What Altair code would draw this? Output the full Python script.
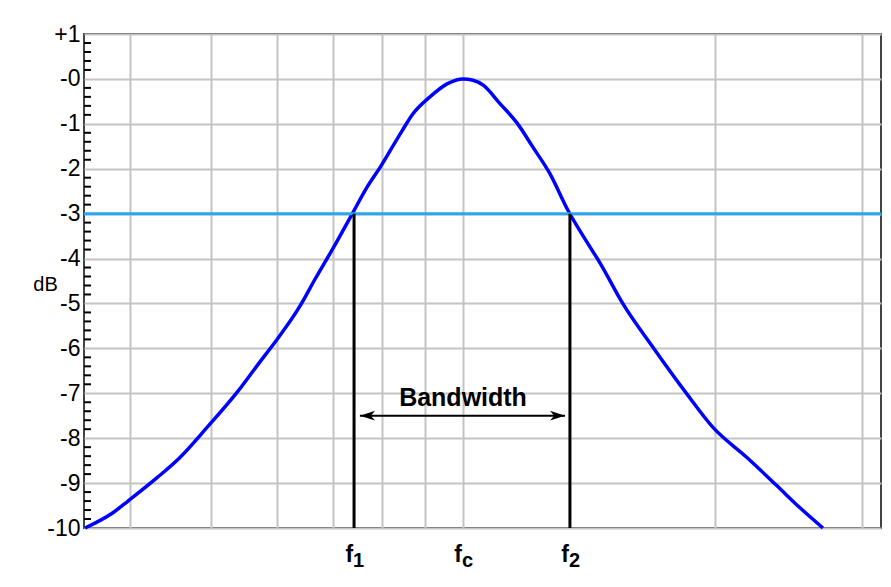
import altair as alt
import pandas as pd

# ---- curve (frequency on log axis, response in dB) ----
freq = [3.535, 3.817, 3.979, 4.31, 4.59, 4.945, 5.37, 5.72, 5.93, 6.39, 6.66,
        6.99, 7.39, 7.68, 7.96, 8.46, 8.71, 9.13, 9.57, 10.0, 10.28, 10.57,
        11.07, 11.60, 12.12, 12.70, 13.35, 14.07, 14.58, 15.53, 16.87, 18.52,
        19.89, 21.84, 23.72, 25.27, 26.92]
db = [-10, -9.66, -9.40, -8.88, -8.43, -7.76, -6.98, -6.30, -5.92, -5.05, -4.45,
      -3.78, -2.97, -2.41, -1.97, -1.15, -0.78, -0.40, -0.11, 0.0, -0.03, -0.14,
      -0.55, -0.98, -1.52, -2.11, -2.93, -3.64, -4.10, -5.01, -5.98, -7.02,
      -7.76, -8.43, -9.06, -9.55, -10]

# ---- annotation values ----
cut_db = -3
f_lines = [7.41, 13.42]
f_lab_x = [7.41, 10.0, 13.42]
f_lab_sub = ["1", "c", "2"]
arrow_tips = [7.53, 13.24]
arrow_heads = [7.69, 12.97]
arrow_db = -7.5
bw_label = "Bandwidth"
bw_x = 10.0
bw_db = -7.28

# ---- axes ----
x_domain = [3.525, 31.58]
x_grid = [4, 5, 6, 7, 8, 9, 10, 20, 30]
y_domain = [-10, 1]
y_major = [-10, -9, -8, -7, -6, -5, -4, -3, -2, -1, 0, 1]
y_minor_steps = [0.2, 0.4, 0.6, 0.8]
y_minor = [round(m + s, 1) for m in y_major[:-1] for s in y_minor_steps]

curve = pd.DataFrame({"f": freq, "db": db})
xs = alt.Scale(type="log", domain=x_domain, nice=False)
ys = alt.Scale(domain=y_domain, nice=False, zero=False)

FONT = "Liberation Sans"

x_axis = alt.Axis(values=x_grid, labels=False, ticks=False, domain=False,
                  grid=True, title=None)
y_axis = alt.Axis(values=y_major, ticks=False, domain=False, grid=True,
                  labelExpr="datum.value > 0 ? '+' + datum.value : '-' + abs(datum.value)",
                  labelFont=FONT, labelFontSize=23, labelColor="black",
                  labelPadding=4,
                  title="dB", titleAngle=0, titleX=-39, titleY=250,
                  titleAlign="center", titleBaseline="middle",
                  titleFont=FONT, titleFontSize=20, titleFontWeight="normal",
                  titleColor="black")


def X(field):
    return alt.X(field, scale=xs, axis=x_axis)


def Y(field):
    return alt.Y(field, scale=ys, axis=y_axis)


base = alt.Chart(curve).mark_line(color="#0000ff", strokeWidth=3.5, interpolate="monotone").encode(
    x=X("f:Q"), y=Y("db:Q"))

cut = alt.Chart(pd.DataFrame({"db": [cut_db]})).mark_rule(
    color="#29a6ef", strokeWidth=3).encode(y=Y("db:Q"))

vlines = alt.Chart(pd.DataFrame({"f": f_lines, "y1": [cut_db] * 2, "y2": [y_domain[0]] * 2})).mark_rule(
    color="black", strokeWidth=3).encode(
    x=X("f:Q"), y=Y("y1:Q"), y2="y2:Q")

minor = alt.Chart(pd.DataFrame({"db": y_minor})).mark_rule(
    color="black", strokeWidth=2).encode(
    y=Y("db:Q"), x=alt.value(0), x2=alt.value(7))

arrow_line = alt.Chart(pd.DataFrame({"a": [arrow_tips[0]], "b": [arrow_tips[1]], "db": [arrow_db]})).mark_rule(
    color="black", strokeWidth=2).encode(
    x=X("a:Q"), x2="b:Q", y=Y("db:Q"))

head_l = alt.Chart(pd.DataFrame({"f": [arrow_heads[0]], "db": [arrow_db]})).mark_point(
    shape="M-1,0L1,-0.65L0.45,0L1,0.65Z", filled=True, size=225, color="black", opacity=1).encode(
    x=X("f:Q"), y=Y("db:Q"))
head_r = alt.Chart(pd.DataFrame({"f": [arrow_heads[1]], "db": [arrow_db]})).mark_point(
    shape="M1,0L-1,-0.65L-0.45,0L-1,0.65Z", filled=True, size=225, color="black", opacity=1).encode(
    x=X("f:Q"), y=Y("db:Q"))

bw = alt.Chart(pd.DataFrame({"f": [bw_x], "db": [bw_db], "t": [bw_label]})).mark_text(
    font=FONT, fontSize=25, fontWeight="bold", color="black", baseline="alphabetic").encode(
    x=X("f:Q"), y=Y("db:Q"), text="t:N")

lab_df = pd.DataFrame({"f": f_lab_x, "db": [y_domain[0]] * 3, "f_txt": ["f"] * 3, "sub": f_lab_sub})
f_main = alt.Chart(lab_df).mark_text(
    font=FONT, fontSize=23, fontWeight="bold", color="black", align="right",
    baseline="alphabetic", dx=-1, dy=34).encode(
    x=X("f:Q"), y=Y("db:Q"), text="f_txt:N")
f_sub = alt.Chart(lab_df).mark_text(
    font=FONT, fontSize=20, fontWeight="bold", color="black", align="left",
    baseline="alphabetic", dx=-1, dy=39).encode(
    x=X("f:Q"), y=Y("db:Q"), text="sub:N")

chart = alt.layer(base, cut, vlines, minor, arrow_line, head_l, head_r, bw, f_main, f_sub).properties(
    width=797, height=494,
    autosize=alt.AutoSizeParams(type="none"),
    padding={"left": 76, "top": 26, "right": 2, "bottom": 48},
    background="white",
).configure_axis(
    gridColor="#c4c4c4", gridWidth=2
).configure_view(
    stroke="#444444", strokeWidth=2
)

chart.save("out.html", embed_options={"renderer": "svg", "actions": False})
